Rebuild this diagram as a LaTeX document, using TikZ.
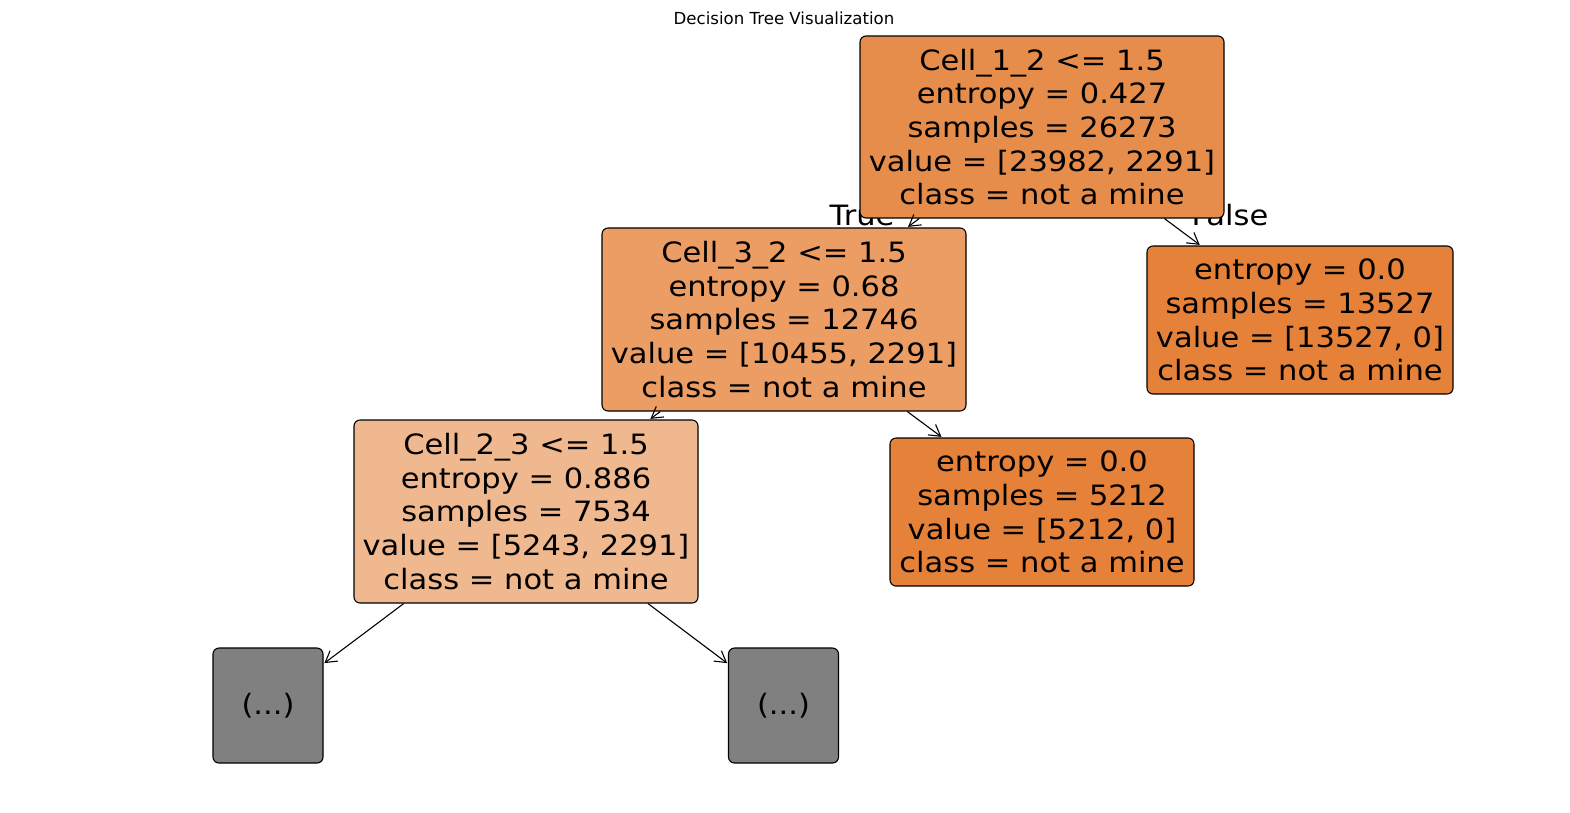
\documentclass[tikz,border=0pt]{standalone}
\usepackage{fontspec}
\setmainfont{DejaVu Sans}
\newfontfamily\widefont[FakeStretch=1.09]{DejaVu Sans}
\usetikzlibrary{arrows.meta}
\definecolor{rootc}{RGB}{231,141,76}
\definecolor{ac}{RGB}{235,157,100}
\definecolor{bc}{RGB}{240,184,143}
\definecolor{leafc}{RGB}{229,129,57}
\definecolor{grayc}{RGB}{128,128,128}
\tikzset{
  treenode/.style={draw=black, line width=1.1pt, rounded corners=6pt, inner sep=0pt,
    align=center, font=\widefont\fontsize{28}{33.6}\selectfont},
  edgelabel/.style={inner sep=0pt, font=\widefont\fontsize{28}{33.6}\selectfont, anchor=base},
  arr/.style={draw=black, line width=1.1pt, -{Straight Barb[length=11pt,width=13pt]}, shorten >=1pt},
}
\begin{document}
\begin{tikzpicture}[x=1pt,y=-1pt]
\useasboundingbox (0,0) rectangle (1570,812);
\node[anchor=base, inner sep=0pt, font=\fontsize{16.6}{20}\selectfont] (title) at (784,24) {Decision Tree Visualization};
\node[edgelabel] (tlab) at (862,225) {True};
\node[edgelabel] (flab) at (1230,225) {False};

\node[treenode, fill=rootc, minimum width=364pt, minimum height=182pt] (root) at (1042,127)
  {Cell\_1\_2 <= 1.5\\entropy = 0.427\\samples = 26273\\value = [23982, 2291]\\class = not a mine};
\node[treenode, fill=ac, minimum width=364pt, minimum height=183pt] (a) at (784,319.5)
  {Cell\_3\_2 <= 1.5\\entropy = 0.68\\samples = 12746\\value = [10455, 2291]\\class = not a mine};
\node[treenode, fill=leafc, minimum width=306pt, minimum height=148pt] (f) at (1300,320)
  {entropy = 0.0\\samples = 13527\\value = [13527, 0]\\class = not a mine};
\node[treenode, fill=bc, minimum width=344pt, minimum height=183pt] (b) at (526,511.5)
  {Cell\_2\_3 <= 1.5\\entropy = 0.886\\samples = 7534\\value = [5243, 2291]\\class = not a mine};
\node[treenode, fill=leafc, minimum width=304pt, minimum height=148pt] (l) at (1042,512)
  {entropy = 0.0\\samples = 5212\\value = [5212, 0]\\class = not a mine};
\node[treenode, fill=grayc, minimum width=110pt, minimum height=115pt] (g1) at (268,705.5) {(...)};
\node[treenode, fill=grayc, minimum width=110pt, minimum height=115pt] (g2) at (783.5,705.5) {(...)};

\draw[arr] (root) -- (a);
\draw[arr] (root) -- (f);
\draw[arr] (a) -- (b);
\draw[arr] (a) -- (l);
\draw[arr] (b) -- (g1);
\draw[arr] (b) -- (g2);
\end{tikzpicture}
\end{document}
